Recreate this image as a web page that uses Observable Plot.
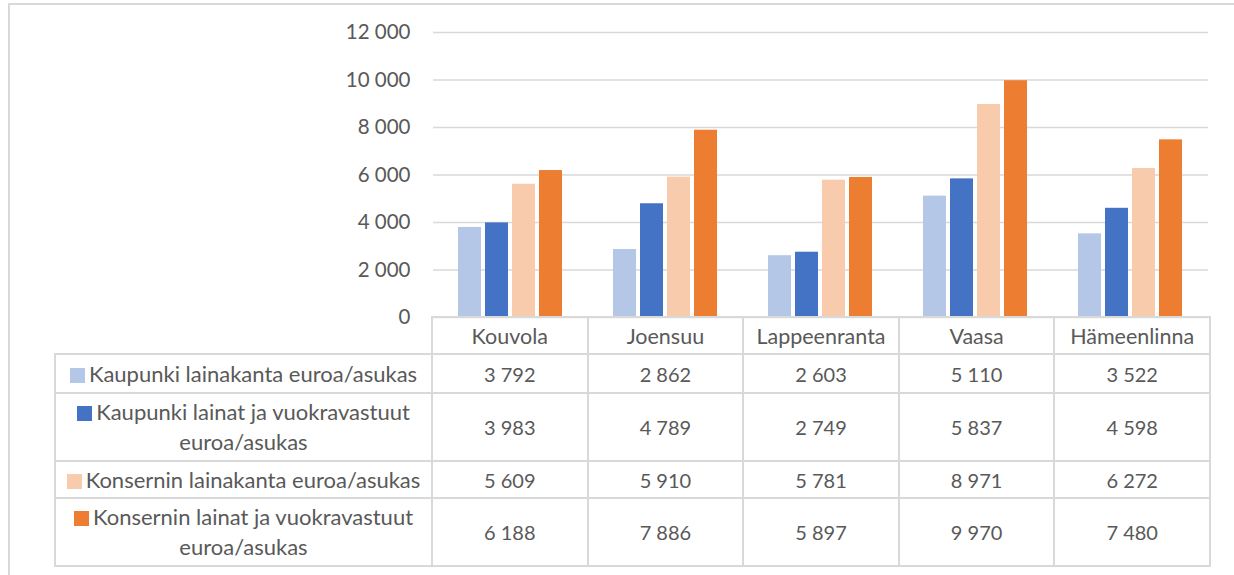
<!DOCTYPE html>
<html>
<head>
<meta charset="utf-8">
<script src="https://cdn.jsdelivr.net/npm/d3@7"></script>
<script src="https://cdn.jsdelivr.net/npm/@observablehq/plot@0.6"></script>
<style>
  html, body { margin: 0; padding: 0; background: #fff; }
  #wrap { position: relative; width: 1234px; height: 575px; overflow: hidden; font-family: Lato, "Open Sans", sans-serif; color: #595959; }
  #frame { position: absolute; left: 8px; top: 3px; width: 1300px; height: 700px; border-left: 2px solid #d9d9d9; border-top: 2px solid #d9d9d9; box-sizing: border-box; }
  #chart { position: absolute; left: 0; top: 0; }
  #tbl { position: absolute; left: 54px; top: 316px; border-collapse: collapse; table-layout: fixed; font-size: 20px; }
  #tbl td { border: 2px solid #d9d9d9; text-align: center; vertical-align: middle; padding: 0 2px; line-height: 30px; }
  #tbl td.blank { border-top: none; border-left: none; }
  #tbl td.lab { font-size: 22px; }
  #tbl td.city { font-size: 21.5px; }
  .sw { display: inline-block; width: 15px; height: 15px; margin-right: 4px; vertical-align: -1px; }
</style>
</head>
<body>
<div id="wrap">
  <div id="frame"></div>
  <div id="chart"></div>
  <table id="tbl"></table>
</div>
<script>
const cities = ["Kouvola", "Joensuu", "Lappeenranta", "Vaasa", "Hämeenlinna"];
const seriesNames = [
  "Kaupunki lainakanta euroa/asukas",
  "Kaupunki lainat ja vuokravastuut euroa/asukas",
  "Konsernin lainakanta euroa/asukas",
  "Konsernin lainat ja vuokravastuut euroa/asukas"
];
const kaupunkiLainakanta = [3792, 2862, 2603, 5110, 3522];
const kaupunkiLainatVuokra = [3983, 4789, 2749, 5837, 4598];
const konserninLainakanta = [5609, 5910, 5781, 8971, 6272];
const konserninLainatVuokra = [6188, 7886, 5897, 9970, 7480];
const seriesValues = [kaupunkiLainakanta, kaupunkiLainatVuokra, konserninLainakanta, konserninLainatVuokra];
const colors = ["#B4C7E7", "#4472C4", "#F8CBAD", "#ED7D31"];
const yTicks = [0, 2000, 4000, 6000, 8000, 10000, 12000];

const fmt = v => d3.format(",")(v).replace(/,/g, "\u00a0");

const data = [];
seriesNames.forEach((s, i) => cities.forEach((c, j) => data.push({city: c, series: s, value: seriesValues[i][j]})));

const chart = Plot.plot({
  width: 1234,
  height: 340,
  marginLeft: 431,
  marginRight: 25,
  marginTop: 32,
  marginBottom: 23,
  style: {fontFamily: "Lato, 'Open Sans', sans-serif", fontSize: "20px", color: "#595959", background: "transparent"},
  fx: {domain: cities, padding: 0, axis: null},
  x: {domain: seriesNames, paddingInner: 0.143, paddingOuter: 0.85, axis: null},
  y: {domain: [0, 12000], axis: null},
  color: {domain: seriesNames, range: colors},
  marks: [
    Plot.gridY(yTicks, {stroke: "#d9d9d9", strokeOpacity: 1, strokeWidth: 1.6}),
    Plot.axisY(yTicks, {tickFormat: fmt, tickSize: 0, tickPadding: 23, fontSize: 20.5, label: null}),
    Plot.barY(data, {fx: "city", x: "series", y: "value", fill: "series"})
  ]
});
document.getElementById("chart").appendChild(chart);

// data table below the chart
const tbl = document.getElementById("tbl");
const colg = document.createElement("colgroup");
[377, ...cities.map(() => 155.6)].forEach(w => { const c = document.createElement("col"); c.style.width = w + "px"; colg.appendChild(c); });
tbl.appendChild(colg);
tbl.style.width = (377 + 155.6 * 5) + "px";
const rowHeights = [37, 39, 68, 37, 68];
const hr = document.createElement("tr");
hr.style.height = rowHeights[0] + "px";
const blank = document.createElement("td"); blank.className = "blank"; hr.appendChild(blank);
cities.forEach(c => { const td = document.createElement("td"); td.className = "city"; td.textContent = c; hr.appendChild(td); });
tbl.appendChild(hr);
seriesNames.forEach((s, i) => {
  const tr = document.createElement("tr");
  tr.style.height = rowHeights[i + 1] + "px";
  const td0 = document.createElement("td");
  td0.className = "lab";
  const sw = document.createElement("span"); sw.className = "sw"; sw.style.background = colors[i];
  td0.appendChild(sw);
  td0.appendChild(document.createTextNode(s));
  tr.appendChild(td0);
  seriesValues[i].forEach(v => { const td = document.createElement("td"); td.textContent = fmt(v); tr.appendChild(td); });
  tbl.appendChild(tr);
});
</script>
</body>
</html>
